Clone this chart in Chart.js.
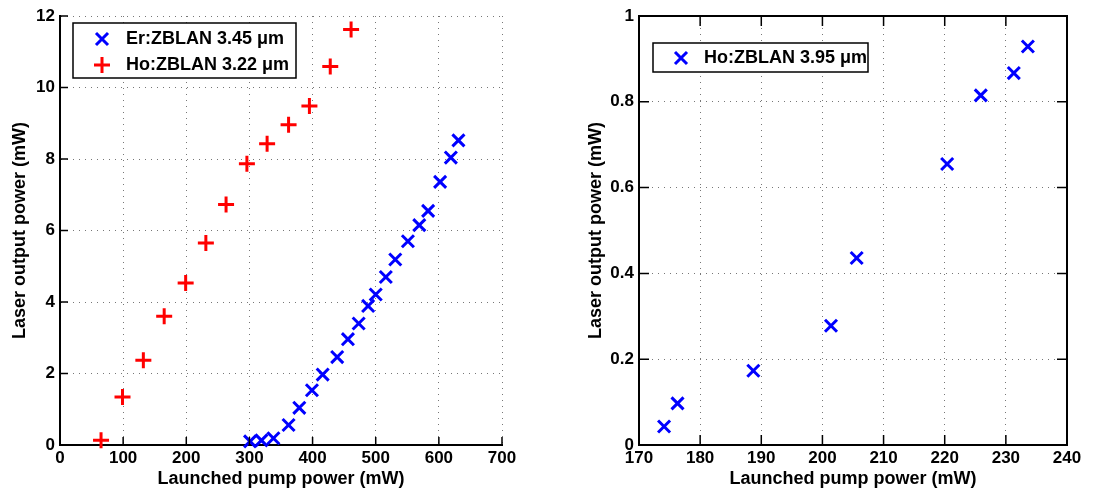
<!DOCTYPE html>
<html>
<head>
<meta charset="utf-8">
<script src="https://cdn.jsdelivr.net/npm/chart.js@4.4.0/dist/chart.umd.min.js"></script>
<style>
    html, body { margin: 0; padding: 0; background: #fff; }
    #leftBox { position: absolute; left: 0; top: 0; width: 530px; height: 491px; }
    #rightBox { position: absolute; left: 560px; top: 0; width: 541px; height: 491px; }
</style>
</head>
<body>
<div id="leftBox"><canvas id="leftChart"></canvas></div>
<div id="rightBox"><canvas id="rightChart"></canvas></div>
<script>
// Left panel: Er:ZBLAN 3.45 um
const erPump  = [301, 319, 338, 362, 379, 399, 416, 439, 456, 473, 488, 500, 516, 531, 551, 569, 583, 602, 619, 631];
const erPower = [0.10, 0.13, 0.19, 0.56, 1.04, 1.53, 1.97, 2.46, 2.96, 3.40, 3.89, 4.21, 4.70, 5.19, 5.70, 6.15, 6.55, 7.36, 8.04, 8.52];

// Left panel: Ho:ZBLAN 3.22 um
const hoPump  = [65, 99, 132, 165, 199, 231, 263, 296, 328, 362, 395, 428, 461];
const hoPower = [0.13, 1.34, 2.37, 3.60, 4.53, 5.65, 6.73, 7.87, 8.43, 8.96, 9.48, 10.59, 11.62];

// Right panel: Ho:ZBLAN 3.95 um
const ho395Pump  = [174.1, 176.3, 188.7, 201.4, 205.6, 220.4, 225.9, 231.3, 233.6];
const ho395Power = [0.043, 0.097, 0.173, 0.278, 0.436, 0.655, 0.815, 0.867, 0.929];

// Axis ranges / ticks
const leftX  = { min: 0, max: 700, step: 100 };
const leftY  = { min: 0, max: 12, step: 2 };
const rightX = { min: 170, max: 240, step: 10 };
const rightY = { min: 0, max: 1, step: 0.2 };

const xTitle = 'Launched pump power (mW)';
const yTitle = 'Laser output power (mW)';

const FONT = "'Liberation Sans', Arial, Helvetica, sans-serif";
const tickFont  = { family: FONT, size: 17, weight: 'bold' };
const titleFont = { family: FONT, size: 18, weight: 'bold' };

function toPoints(xs, ys) {
    return xs.map((x, i) => ({ x: x, y: ys[i] }));
}

/**
 * MATLAB-like inward tick marks and optional closed box
 */
const matlabAxes = {
    id: 'matlabAxes',
    afterDraw(chart, args, opts) {
        const ctx = chart.ctx;
        const a = chart.chartArea;
        const xs = chart.scales.x;
        const ys = chart.scales.y;
        const len = opts.tickLen || 8;
        ctx.save();
        ctx.strokeStyle = '#000';
        ctx.lineWidth = 1.5;
        ctx.beginPath();
        xs.ticks.forEach(t => {
            const px = xs.getPixelForValue(t.value);
            ctx.moveTo(px, a.bottom);
            ctx.lineTo(px, a.bottom - len);
            if (opts.box) {
                ctx.moveTo(px, a.top);
                ctx.lineTo(px, a.top + len);
            }
        });
        ys.ticks.forEach(t => {
            const py = ys.getPixelForValue(t.value);
            ctx.moveTo(a.left, py);
            ctx.lineTo(a.left + len, py);
            if (opts.box) {
                ctx.moveTo(a.right, py);
                ctx.lineTo(a.right - len, py);
            }
        });
        ctx.stroke();
        if (opts.box) {
            ctx.lineWidth = 2;
            ctx.beginPath();
            ctx.moveTo(a.left, a.top);
            ctx.lineTo(a.right, a.top);
            ctx.lineTo(a.right, a.bottom);
            ctx.stroke();
        }
        ctx.restore();
    }
};

/**
 * Boxed legend drawn inside the axes
 */
const boxLegend = {
    id: 'boxLegend',
    afterDraw(chart, args, opts) {
        const ctx = chart.ctx;
        ctx.save();
        ctx.fillStyle = '#fff';
        ctx.fillRect(opts.x, opts.y, opts.w, opts.h);
        ctx.strokeStyle = '#000';
        ctx.lineWidth = 1.5;
        ctx.strokeRect(opts.x, opts.y, opts.w, opts.h);
        chart.data.datasets.forEach((ds, i) => {
            const cy = opts.rowY[i];
            ctx.save();
            ctx.strokeStyle = ds.borderColor;
            ctx.fillStyle = ds.borderColor;
            ctx.lineWidth = ds.pointBorderWidth;
            Chart.helpers.drawPoint(ctx, {
                pointStyle: ds.pointStyle,
                radius: ds.pointRadius,
                rotation: 0,
                borderWidth: ds.pointBorderWidth
            }, opts.markerX, cy);
            ctx.restore();
            ctx.fillStyle = '#000';
            ctx.font = 'bold 18px ' + FONT;
            ctx.textBaseline = 'middle';
            ctx.textAlign = 'left';
            ctx.fillText(ds.label, opts.textX, cy);
        });
        ctx.restore();
    }
};

function markerSet(label, xs, ys, color, style, radius) {
    return {
        label: label,
        data: toPoints(xs, ys),
        showLine: false,
        pointStyle: style,
        pointRadius: radius,
        pointHoverRadius: radius,
        pointBorderWidth: 3,
        borderColor: color,
        backgroundColor: color,
        pointBorderColor: color,
        pointBackgroundColor: color,
        clip: false
    };
}

function axisX(r, titlePadBottom, height) {
    return {
        type: 'linear',
        min: r.min,
        max: r.max,
        ticks: { stepSize: r.step, color: '#000', font: tickFont, padding: 3, maxRotation: 0 },
        grid: { color: '#777', lineWidth: 1, drawTicks: false },
        border: { display: true, color: '#000', width: 2, dash: [1, 5] },
        title: { display: true, text: xTitle, color: '#000', font: titleFont, padding: { top: 0, bottom: titlePadBottom } },
        afterFit(scale) { scale.height = height; }
    };
}

function axisY(r, titlePadTop, width) {
    return {
        type: 'linear',
        min: r.min,
        max: r.max,
        ticks: {
            stepSize: r.step, color: '#000', font: tickFont, padding: 5,
            callback: v => String(Math.round(v * 10) / 10)
        },
        grid: { color: '#777', lineWidth: 1, drawTicks: false },
        border: { display: true, color: '#000', width: 2, dash: [1, 5] },
        title: { display: true, text: yTitle, color: '#000', font: titleFont, padding: { top: titlePadTop, bottom: 0 } },
        afterFit(scale) { scale.width = width; }
    };
}

function baseOptions() {
    return {
        responsive: true,
        maintainAspectRatio: false,
        animation: false,
        events: []
    };
}

// Left chart
const leftOpts = baseOptions();
leftOpts.layout = { padding: { top: 16, right: 28, left: 0, bottom: 0 } };
leftOpts.scales = { x: axisX(leftX, 1, 46), y: axisY(leftY, 9, 60) };
leftOpts.plugins = {
    legend: { display: false },
    tooltip: { enabled: false },
    matlabAxes: { box: false, tickLen: 8 },
    boxLegend: { x: 73, y: 23, w: 223, h: 55, markerX: 102, textX: 126, rowY: [39, 65] }
};

new Chart(document.getElementById('leftChart'), {
    type: 'scatter',
    data: {
        datasets: [
            markerSet('Er:ZBLAN 3.45 \u03bcm', erPump, erPower, '#0000ff', 'crossRot', 8.5),
            markerSet('Ho:ZBLAN 3.22 \u03bcm', hoPump, hoPower, '#ff0000', 'cross', 8)
        ]
    },
    options: leftOpts,
    plugins: [matlabAxes, boxLegend]
});

// Right chart
const rightOpts = baseOptions();
rightOpts.layout = { padding: { top: 16, right: 34, left: 0, bottom: 0 } };
rightOpts.scales = { x: axisX(rightX, 1, 46), y: axisY(rightY, 25, 79) };
rightOpts.plugins = {
    legend: { display: false },
    tooltip: { enabled: false },
    matlabAxes: { box: true, tickLen: 10 },
    boxLegend: { x: 93, y: 43, w: 215, h: 29, markerX: 121, textX: 144, rowY: [58] }
};

new Chart(document.getElementById('rightChart'), {
    type: 'scatter',
    data: {
        datasets: [
            markerSet('Ho:ZBLAN 3.95 \u03bcm', ho395Pump, ho395Power, '#0000ff', 'crossRot', 8.5)
        ]
    },
    options: rightOpts,
    plugins: [matlabAxes, boxLegend]
});
</script>
</body>
</html>
